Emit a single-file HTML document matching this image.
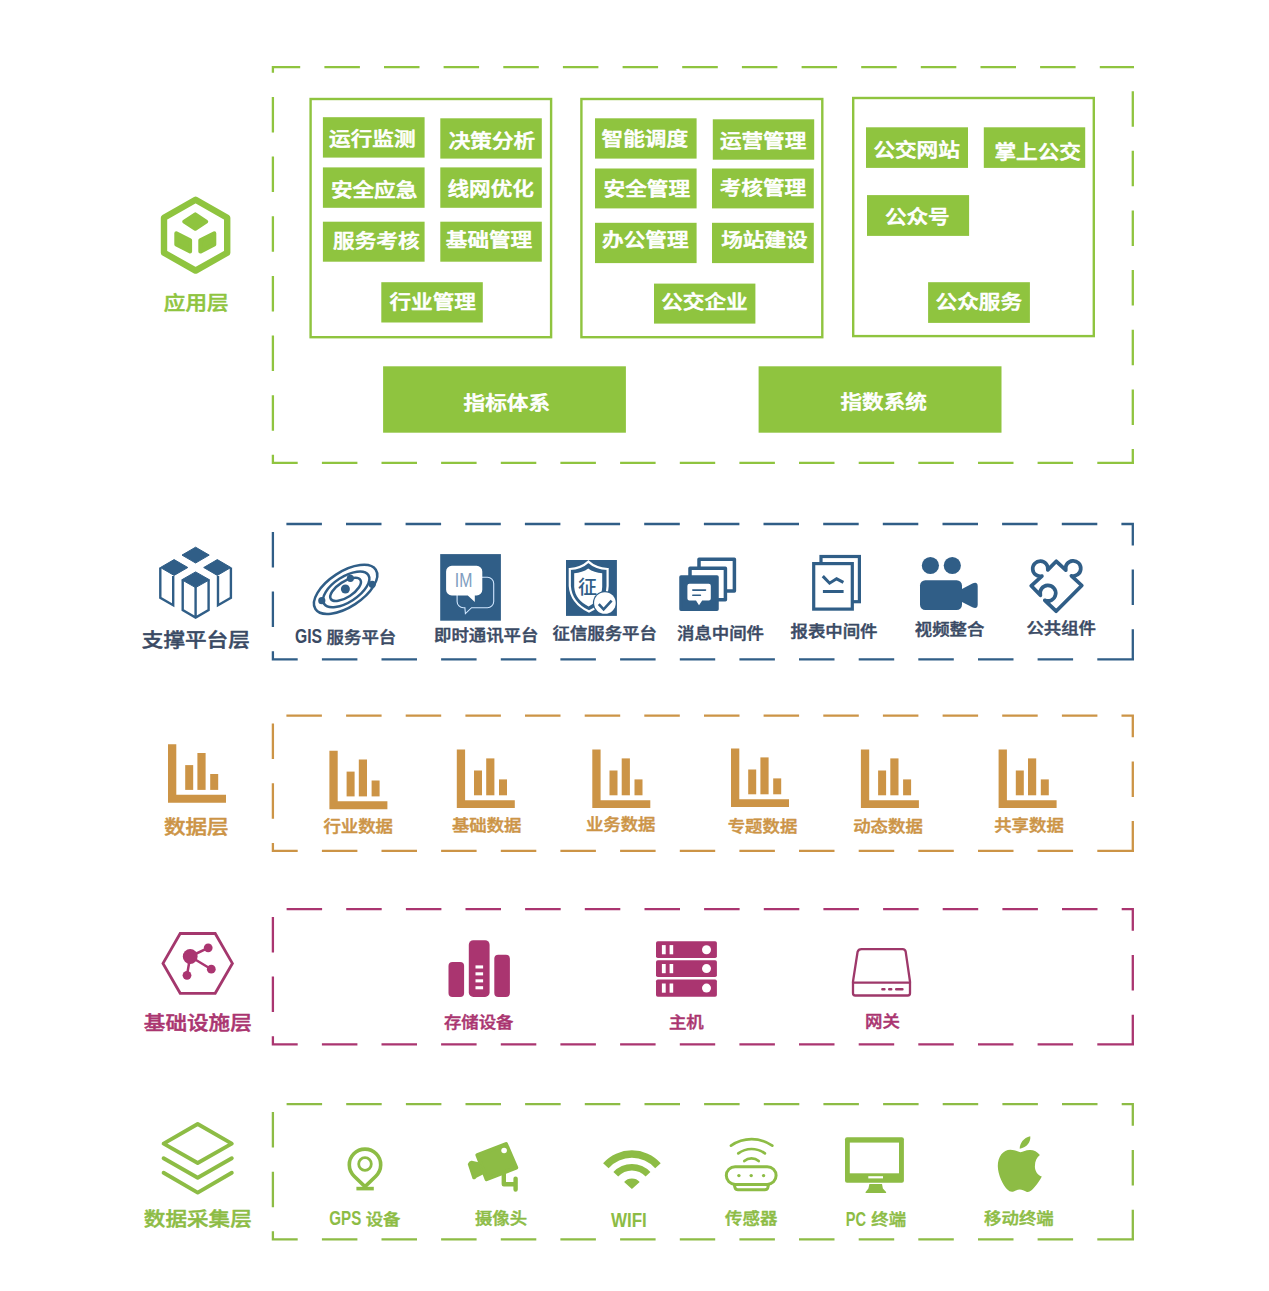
<!DOCTYPE html>
<html lang="zh-CN">
<head>
<meta charset="utf-8">
<title>公交数据平台架构</title>
<style>
html,body{margin:0;padding:0;background:#fff;}
body{width:1269px;height:1291px;overflow:hidden;}
svg{display:block;}
svg text{font-family:"Liberation Sans","Noto Sans CJK SC",sans-serif;font-weight:bold;text-anchor:middle;}
svg text.c{font-weight:500;stroke-width:0.5px;stroke-linejoin:round;}
</style>
</head>
<body>
<svg width="1269" height="1291" viewBox="0 0 1269 1291">
<rect width="1269" height="1291" fill="#fff"/>
<path d="M1134.0 462.8L1097.3 462.8M1073.1 462.8L1037.6 462.8M1013.5 462.8L978.0 462.8M953.8 462.8L918.3 462.8M894.2 462.8L858.7 462.8M834.5 462.8L799.0 462.8M774.9 462.8L739.4 462.8M715.2 462.8L679.8 462.8M655.6 462.8L620.1 462.8M595.9 462.8L560.4 462.8M536.3 462.8L500.8 462.8M476.6 462.8L441.1 462.8M417.0 462.8L381.5 462.8M357.4 462.8L321.9 462.8M297.7 462.8L272.9 462.8L272.9 454.8M272.9 430.7L272.9 395.2M272.9 371.0L272.9 335.5M272.9 311.4L272.9 275.9M272.9 251.7L272.9 216.2M272.9 192.1L272.9 156.6M272.9 132.4L272.9 96.9M272.9 72.8L272.9 67.2L300.2 67.2M324.4 67.2L359.9 67.2M384.0 67.2L419.5 67.2M443.6 67.2L479.1 67.2M503.3 67.2L538.8 67.2M562.9 67.2L598.4 67.2M622.6 67.2L658.1 67.2M682.2 67.2L717.8 67.2M741.9 67.2L777.4 67.2M801.6 67.2L837.1 67.2M861.2 67.2L896.7 67.2M920.8 67.2L956.3 67.2M980.5 67.2L1016.0 67.2M1040.1 67.2L1075.6 67.2M1099.8 67.2L1132.8 67.2L1134.0 67.2M1132.8 91.2L1132.8 126.7M1132.8 150.8L1132.8 186.3M1132.8 210.5L1132.8 246.0M1132.8 270.1L1132.8 305.6M1132.8 329.8L1132.8 365.3M1132.8 389.5L1132.8 425.0M1132.8 449.1L1132.8 462.8" fill="none" stroke="#8fc43f" stroke-width="2.3"/>
<path d="M1134.0 659.3L1097.3 659.3M1073.1 659.3L1037.6 659.3M1013.5 659.3L978.0 659.3M953.8 659.3L918.3 659.3M894.2 659.3L858.7 659.3M834.5 659.3L799.0 659.3M774.9 659.3L739.4 659.3M715.2 659.3L679.8 659.3M655.6 659.3L620.1 659.3M595.9 659.3L560.4 659.3M536.3 659.3L500.8 659.3M476.6 659.3L441.1 659.3M417.0 659.3L381.5 659.3M357.4 659.3L321.9 659.3M297.7 659.3L272.9 659.3L272.9 651.3M272.9 627.1L272.9 591.6M272.9 567.5L272.9 532.0M286.4 524.0L321.9 524.0M346.0 524.0L381.5 524.0M405.6 524.0L441.1 524.0M465.3 524.0L500.8 524.0M524.9 524.0L560.4 524.0M584.6 524.0L620.1 524.0M644.2 524.0L679.8 524.0M703.9 524.0L739.4 524.0M763.5 524.0L799.0 524.0M823.2 524.0L858.7 524.0M882.8 524.0L918.3 524.0M942.5 524.0L978.0 524.0M1002.1 524.0L1037.6 524.0M1061.8 524.0L1097.3 524.0M1121.4 524.0L1132.8 524.0L1132.8 545.5M1132.8 569.6L1132.8 605.1M1132.8 629.3L1132.8 659.3" fill="none" stroke="#305e87" stroke-width="2.3"/>
<path d="M1134.0 850.9L1097.3 850.9M1073.1 850.9L1037.6 850.9M1013.5 850.9L978.0 850.9M953.8 850.9L918.3 850.9M894.2 850.9L858.7 850.9M834.5 850.9L799.0 850.9M774.9 850.9L739.4 850.9M715.2 850.9L679.8 850.9M655.6 850.9L620.1 850.9M595.9 850.9L560.4 850.9M536.3 850.9L500.8 850.9M476.6 850.9L441.1 850.9M417.0 850.9L381.5 850.9M357.4 850.9L321.9 850.9M297.7 850.9L272.9 850.9L272.9 842.9M272.9 818.8L272.9 783.2M272.9 759.1L272.9 723.6M286.4 715.7L321.9 715.7M346.1 715.7L381.6 715.7M405.7 715.7L441.2 715.7M465.4 715.7L500.9 715.7M525.0 715.7L560.5 715.7M584.7 715.7L620.2 715.7M644.3 715.7L679.8 715.7M704.0 715.7L739.5 715.7M763.6 715.7L799.1 715.7M823.3 715.7L858.8 715.7M882.9 715.7L918.4 715.7M942.6 715.7L978.1 715.7M1002.2 715.7L1037.7 715.7M1061.9 715.7L1097.4 715.7M1121.5 715.7L1132.8 715.7L1132.8 737.2M1132.8 761.4L1132.8 796.9M1132.8 821.1L1132.8 850.9" fill="none" stroke="#cc9446" stroke-width="2.3"/>
<path d="M1134.0 1044.3L1097.3 1044.3M1073.1 1044.3L1037.6 1044.3M1013.5 1044.3L978.0 1044.3M953.8 1044.3L918.3 1044.3M894.2 1044.3L858.7 1044.3M834.5 1044.3L799.0 1044.3M774.9 1044.3L739.4 1044.3M715.2 1044.3L679.8 1044.3M655.6 1044.3L620.1 1044.3M595.9 1044.3L560.4 1044.3M536.3 1044.3L500.8 1044.3M476.6 1044.3L441.1 1044.3M417.0 1044.3L381.5 1044.3M357.4 1044.3L321.9 1044.3M297.7 1044.3L272.9 1044.3L272.9 1036.3M272.9 1012.1L272.9 976.6M272.9 952.5L272.9 917.0M286.6 909.2L322.1 909.2M346.2 909.2L381.7 909.2M405.9 909.2L441.4 909.2M465.5 909.2L501.0 909.2M525.1 909.2L560.7 909.2M584.8 909.2L620.3 909.2M644.5 909.2L680.0 909.2M704.1 909.2L739.6 909.2M763.8 909.2L799.3 909.2M823.4 909.2L858.9 909.2M883.1 909.2L918.6 909.2M942.7 909.2L978.2 909.2M1002.4 909.2L1037.9 909.2M1062.0 909.2L1097.5 909.2M1121.7 909.2L1132.8 909.2L1132.8 930.8M1132.8 955.0L1132.8 990.5M1132.8 1014.7L1132.8 1044.3" fill="none" stroke="#aa3570" stroke-width="2.3"/>
<path d="M1134.0 1239.3L1097.3 1239.3M1073.1 1239.3L1037.6 1239.3M1013.5 1239.3L978.0 1239.3M953.8 1239.3L918.3 1239.3M894.2 1239.3L858.7 1239.3M834.5 1239.3L799.0 1239.3M774.9 1239.3L739.4 1239.3M715.2 1239.3L679.8 1239.3M655.6 1239.3L620.1 1239.3M595.9 1239.3L560.4 1239.3M536.3 1239.3L500.8 1239.3M476.6 1239.3L441.1 1239.3M417.0 1239.3L381.5 1239.3M357.4 1239.3L321.9 1239.3M297.7 1239.3L272.9 1239.3L272.9 1231.3M272.9 1207.2L272.9 1171.7M272.9 1147.5L272.9 1112.0M286.6 1104.2L322.1 1104.2M346.2 1104.2L381.7 1104.2M405.9 1104.2L441.4 1104.2M465.5 1104.2L501.0 1104.2M525.1 1104.2L560.7 1104.2M584.8 1104.2L620.3 1104.2M644.5 1104.2L680.0 1104.2M704.1 1104.2L739.6 1104.2M763.8 1104.2L799.3 1104.2M823.4 1104.2L858.9 1104.2M883.1 1104.2L918.6 1104.2M942.7 1104.2L978.2 1104.2M1002.4 1104.2L1037.9 1104.2M1062.0 1104.2L1097.5 1104.2M1121.7 1104.2L1132.8 1104.2L1132.8 1125.8M1132.8 1150.0L1132.8 1185.5M1132.8 1209.7L1132.8 1239.3" fill="none" stroke="#8dbc45" stroke-width="2.3"/>
<rect x="310.6" y="99.0" width="240.5" height="238.2" fill="none" stroke="#8fc43f" stroke-width="2.4"/>
<rect x="581.4" y="99.0" width="240.9" height="238.2" fill="none" stroke="#8fc43f" stroke-width="2.4"/>
<rect x="853.2" y="98.0" width="240.6" height="238.1" fill="none" stroke="#8fc43f" stroke-width="2.4"/>
<rect x="322.9" y="117.2" width="101.7" height="40.4" fill="#8fc43f"/>
<text class="c" transform="translate(372.3 138.4) scale(1 0.89)" y="8.32" font-size="21.6" fill="#fff" stroke="#fff" style="stroke-width:0.7px">运行监测</text>
<rect x="440.3" y="118.3" width="101.5" height="40.3" fill="#8fc43f"/>
<text class="c" transform="translate(491.9 140.5) scale(1 0.89)" y="8.32" font-size="21.6" fill="#fff" stroke="#fff" style="stroke-width:0.7px">决策分析</text>
<rect x="322.9" y="167.4" width="101.7" height="40.4" fill="#8fc43f"/>
<text class="c" transform="translate(374.1 189.9) scale(1 0.89)" y="8.32" font-size="21.6" fill="#fff" stroke="#fff" style="stroke-width:0.7px">安全应急</text>
<rect x="440.3" y="167.4" width="101.5" height="40.4" fill="#8fc43f"/>
<text class="c" transform="translate(490.7 188.3) scale(1 0.89)" y="8.32" font-size="21.6" fill="#fff" stroke="#fff" style="stroke-width:0.7px">线网优化</text>
<rect x="322.9" y="221.7" width="101.7" height="40.0" fill="#8fc43f"/>
<text class="c" transform="translate(376.3 240.6) scale(1 0.89)" y="8.32" font-size="21.6" fill="#fff" stroke="#fff" style="stroke-width:0.7px">服务考核</text>
<rect x="440.3" y="221.7" width="101.5" height="40.0" fill="#8fc43f"/>
<text class="c" transform="translate(489.0 240.0) scale(1 0.89)" y="8.32" font-size="21.6" fill="#fff" stroke="#fff" style="stroke-width:0.7px">基础管理</text>
<rect x="381.3" y="282.2" width="101.5" height="40.3" fill="#8fc43f"/>
<text class="c" transform="translate(432.7 301.5) scale(1 0.89)" y="8.32" font-size="21.6" fill="#fff" stroke="#fff" style="stroke-width:0.7px">行业管理</text>
<rect x="595.0" y="118.3" width="101.6" height="40.3" fill="#8fc43f"/>
<text class="c" transform="translate(644.8 139.0) scale(1 0.89)" y="8.32" font-size="21.6" fill="#fff" stroke="#fff" style="stroke-width:0.7px">智能调度</text>
<rect x="712.8" y="119.3" width="101.4" height="40.4" fill="#8fc43f"/>
<text class="c" transform="translate(763.1 140.3) scale(1 0.89)" y="8.32" font-size="21.6" fill="#fff" stroke="#fff" style="stroke-width:0.7px">运营管理</text>
<rect x="595.0" y="168.5" width="101.6" height="39.9" fill="#8fc43f"/>
<text class="c" transform="translate(646.8 188.5) scale(1 0.89)" y="8.32" font-size="21.6" fill="#fff" stroke="#fff" style="stroke-width:0.7px">安全管理</text>
<rect x="712.0" y="168.5" width="101.8" height="39.9" fill="#8fc43f"/>
<text class="c" transform="translate(762.9 188.0) scale(1 0.89)" y="8.32" font-size="21.6" fill="#fff" stroke="#fff" style="stroke-width:0.7px">考核管理</text>
<rect x="595.0" y="222.8" width="101.6" height="40.3" fill="#8fc43f"/>
<text class="c" transform="translate(645.3 239.8) scale(1 0.89)" y="8.32" font-size="21.6" fill="#fff" stroke="#fff" style="stroke-width:0.7px">办公管理</text>
<rect x="712.0" y="222.8" width="101.8" height="40.3" fill="#8fc43f"/>
<text class="c" transform="translate(764.4 239.8) scale(1 0.89)" y="8.32" font-size="21.6" fill="#fff" stroke="#fff" style="stroke-width:0.7px">场站建设</text>
<rect x="654.0" y="283.6" width="101.4" height="40.0" fill="#8fc43f"/>
<text class="c" transform="translate(704.4 301.5) scale(1 0.89)" y="8.32" font-size="21.6" fill="#fff" stroke="#fff" style="stroke-width:0.7px">公交企业</text>
<rect x="866.0" y="127.3" width="102.0" height="40.6" fill="#8fc43f"/>
<text class="c" transform="translate(916.6 150.0) scale(1 0.89)" y="8.32" font-size="21.6" fill="#fff" stroke="#fff" style="stroke-width:0.7px">公交网站</text>
<rect x="983.8" y="127.3" width="101.4" height="40.6" fill="#8fc43f"/>
<text class="c" transform="translate(1037.7 152.0) scale(1 0.89)" y="8.32" font-size="21.6" fill="#fff" stroke="#fff" style="stroke-width:0.7px">掌上公交</text>
<rect x="867.0" y="195.1" width="102.1" height="40.8" fill="#8fc43f"/>
<text class="c" transform="translate(917.3 216.5) scale(1 0.89)" y="8.32" font-size="21.6" fill="#fff" stroke="#fff" style="stroke-width:0.7px">公众号</text>
<rect x="928.1" y="282.2" width="101.8" height="40.7" fill="#8fc43f"/>
<text class="c" transform="translate(978.8 301.5) scale(1 0.89)" y="8.32" font-size="21.6" fill="#fff" stroke="#fff" style="stroke-width:0.7px">公众服务</text>
<rect x="383.1" y="366.3" width="242.8" height="66.4" fill="#8fc43f"/>
<text class="c" transform="translate(506.8 402.3) scale(1 0.89)" y="8.32" font-size="21.6" fill="#fff" stroke="#fff" style="stroke-width:0.7px">指标体系</text>
<rect x="758.6" y="366.3" width="242.9" height="66.4" fill="#8fc43f"/>
<text class="c" transform="translate(883.7 401.3) scale(1 0.89)" y="8.32" font-size="21.6" fill="#fff" stroke="#fff" style="stroke-width:0.7px">指数系统</text>
<text class="c" transform="translate(196.2 302.6) scale(1 0.89)" y="8.32" font-size="21.6" fill="#8fc43f" stroke="#8fc43f" >应用层</text>
<text class="c" transform="translate(195.8 639.3) scale(1 0.89)" y="8.32" font-size="21.6" fill="#3a4a64" stroke="#3a4a64" >支撑平台层</text>
<text class="c" transform="translate(196.3 826.2) scale(1 0.89)" y="8.32" font-size="21.6" fill="#cc9446" stroke="#cc9446" >数据层</text>
<text class="c" transform="translate(197.8 1023.0) scale(1 0.89)" y="8.32" font-size="21.6" fill="#aa3570" stroke="#aa3570" >基础设施层</text>
<text class="c" transform="translate(197.8 1218.5) scale(1 0.89)" y="8.32" font-size="21.6" fill="#8dbc45" stroke="#8dbc45" >数据采集层</text>
<text transform="translate(294.97 643.05) scale(0.810 1)" font-size="19.42" fill="#3a4a64" style="text-anchor:start">GIS</text>
<text class="c" transform="translate(361.4 637.2) scale(1 0.89)" y="6.70" font-size="17.4" fill="#3a4a64" stroke="#3a4a64" >服务平台</text>
<text class="c" transform="translate(486.2 634.6) scale(1 0.89)" y="6.70" font-size="17.4" fill="#3a4a64" stroke="#3a4a64" >即时通讯平台</text>
<text class="c" transform="translate(604.7 632.9) scale(1 0.89)" y="6.70" font-size="17.4" fill="#3a4a64" stroke="#3a4a64" >征信服务平台</text>
<text class="c" transform="translate(720.5 632.9) scale(1 0.89)" y="6.70" font-size="17.4" fill="#3a4a64" stroke="#3a4a64" >消息中间件</text>
<text class="c" transform="translate(834.0 631.4) scale(1 0.89)" y="6.70" font-size="17.4" fill="#3a4a64" stroke="#3a4a64" >报表中间件</text>
<text class="c" transform="translate(949.6 628.6) scale(1 0.89)" y="6.70" font-size="17.4" fill="#3a4a64" stroke="#3a4a64" >视频整合</text>
<text class="c" transform="translate(1061.2 627.9) scale(1 0.89)" y="6.70" font-size="17.4" fill="#3a4a64" stroke="#3a4a64" >公共组件</text>
<text class="c" transform="translate(358.2 826.5) scale(1 0.89)" y="6.70" font-size="17.4" fill="#cc9446" stroke="#cc9446" >行业数据</text>
<text class="c" transform="translate(486.7 824.9) scale(1 0.89)" y="6.70" font-size="17.4" fill="#cc9446" stroke="#cc9446" >基础数据</text>
<text class="c" transform="translate(620.7 824.0) scale(1 0.89)" y="6.70" font-size="17.4" fill="#cc9446" stroke="#cc9446" >业务数据</text>
<text class="c" transform="translate(762.5 825.9) scale(1 0.89)" y="6.70" font-size="17.4" fill="#cc9446" stroke="#cc9446" >专题数据</text>
<text class="c" transform="translate(888.0 825.9) scale(1 0.89)" y="6.70" font-size="17.4" fill="#cc9446" stroke="#cc9446" >动态数据</text>
<text class="c" transform="translate(1029.0 824.8) scale(1 0.89)" y="6.70" font-size="17.4" fill="#cc9446" stroke="#cc9446" >共享数据</text>
<text class="c" transform="translate(478.7 1022.2) scale(1 0.89)" y="6.70" font-size="17.4" fill="#aa3570" stroke="#aa3570" >存储设备</text>
<text class="c" transform="translate(686.3 1021.8) scale(1 0.89)" y="6.70" font-size="17.4" fill="#aa3570" stroke="#aa3570" >主机</text>
<text class="c" transform="translate(882.5 1021.4) scale(1 0.89)" y="6.70" font-size="17.4" fill="#aa3570" stroke="#aa3570" >网关</text>
<text transform="translate(329.29 1225.45) scale(0.781 1)" font-size="19.42" fill="#8dbc45" style="text-anchor:start">GPS</text>
<text transform="translate(610.90 1226.55) scale(0.876 1)" font-size="19.42" fill="#8dbc45" style="text-anchor:start">WIFI</text>
<text transform="translate(845.77 1225.95) scale(0.754 1)" font-size="19.42" fill="#8dbc45" style="text-anchor:start">PC</text>
<text class="c" transform="translate(383.1 1218.9) scale(1 0.89)" y="6.70" font-size="17.4" fill="#8dbc45" stroke="#8dbc45" >设备</text>
<text class="c" transform="translate(501.0 1218.4) scale(1 0.89)" y="6.70" font-size="17.4" fill="#8dbc45" stroke="#8dbc45" >摄像头</text>
<text class="c" transform="translate(751.2 1217.8) scale(1 0.89)" y="6.70" font-size="17.4" fill="#8dbc45" stroke="#8dbc45" >传感器</text>
<text class="c" transform="translate(888.7 1219.5) scale(1 0.89)" y="6.70" font-size="17.4" fill="#8dbc45" stroke="#8dbc45" >终端</text>
<text class="c" transform="translate(1018.9 1218.3) scale(1 0.89)" y="6.70" font-size="17.4" fill="#8dbc45" stroke="#8dbc45" >移动终端</text>
<g fill="#cc9446" transform="translate(168.0 744.2)"><path d="M0 0H8.3V50.6H58V58.5H0Z"/><rect x="17.2" y="20.9" width="8" height="24.8"/><rect x="29.4" y="8.8" width="8.2" height="36.9"/><rect x="42.2" y="29.8" width="8" height="15.9"/></g>
<g fill="#cc9446" transform="translate(329.4 750.7)"><path d="M0 0H8.3V50.6H58V58.5H0Z"/><rect x="17.2" y="20.9" width="8" height="24.8"/><rect x="29.4" y="8.8" width="8.2" height="36.9"/><rect x="42.2" y="29.8" width="8" height="15.9"/></g>
<g fill="#cc9446" transform="translate(456.8 749.6)"><path d="M0 0H8.3V50.6H58V58.5H0Z"/><rect x="17.2" y="20.9" width="8" height="24.8"/><rect x="29.4" y="8.8" width="8.2" height="36.9"/><rect x="42.2" y="29.8" width="8" height="15.9"/></g>
<g fill="#cc9446" transform="translate(592.3 749.6)"><path d="M0 0H8.3V50.6H58V58.5H0Z"/><rect x="17.2" y="20.9" width="8" height="24.8"/><rect x="29.4" y="8.8" width="8.2" height="36.9"/><rect x="42.2" y="29.8" width="8" height="15.9"/></g>
<g fill="#cc9446" transform="translate(731.0 748.6)"><path d="M0 0H8.3V50.6H58V58.5H0Z"/><rect x="17.2" y="20.9" width="8" height="24.8"/><rect x="29.4" y="8.8" width="8.2" height="36.9"/><rect x="42.2" y="29.8" width="8" height="15.9"/></g>
<g fill="#cc9446" transform="translate(860.9 749.6)"><path d="M0 0H8.3V50.6H58V58.5H0Z"/><rect x="17.2" y="20.9" width="8" height="24.8"/><rect x="29.4" y="8.8" width="8.2" height="36.9"/><rect x="42.2" y="29.8" width="8" height="15.9"/></g>
<g fill="#cc9446" transform="translate(998.6 749.6)"><path d="M0 0H8.3V50.6H58V58.5H0Z"/><rect x="17.2" y="20.9" width="8" height="24.8"/><rect x="29.4" y="8.8" width="8.2" height="36.9"/><rect x="42.2" y="29.8" width="8" height="15.9"/></g>
<g fill="#8fc43f" stroke="#8fc43f" stroke-linejoin="round"><path d="M195.6 199.8L227.2 217.8V252.8L195.6 270.6L164 252.8V217.8Z" fill="none" stroke-width="6.4"/><path d="M195.3 214.4L206.2 221.6L195.3 228.8L184.2 221.6Z" stroke-width="4"/><path d="M176.3 233.2L190.1 240.3V251.6L176.3 244.4Z" stroke-width="4"/><path d="M214.3 233.2L200.3 240.3V251.6L214.3 244.4Z" stroke-width="4"/></g>
<g fill="#305e87" stroke="#305e87" stroke-width="2.4" stroke-linejoin="miter"><path d="M195.6 547.2L209.2 555.1L195.6 563L182 555.1Z" stroke-width="1"/><path d="M174.1 559.6L187.8 567.5L174.1 575.4L160.4 567.5Z" stroke-width="1"/><path d="M160.3 567.5V597.9L173.2 605.3V576" fill="none"/><path d="M217.3 559.6L230.9 567.5L217.3 575.4L203.7 567.5Z" stroke-width="1"/><path d="M230.9 567.5V597.9L218 605.3V576" fill="none"/><path d="M195.6 571.9L209.5 579.8L195.6 587.6L181.8 579.8Z" stroke-width="1"/><path d="M182.7 579.8V610L195.6 617.5L208.6 610V579.8M195.6 587V617.5" fill="none"/></g>
<g transform="translate(345.6 589.4) rotate(-33)" fill="none" stroke="#305e87" stroke-width="2.5"><ellipse cx="0" cy="0" rx="36" ry="17.6"/><ellipse cx="0.5" cy="0.3" rx="26.4" ry="12.6"/><ellipse cx="0" cy="0" rx="17.6" ry="7.8"/></g>
<g fill="#305e87"><circle cx="345.4" cy="589" r="4.5"/><circle cx="350.4" cy="578.3" r="3.6"/><circle cx="321.8" cy="600.7" r="3.6"/><circle cx="372.2" cy="584.3" r="3.6"/></g>
<rect x="440.2" y="554.1" width="60.7" height="66.6" fill="#305e87"/>
<path d="M482 577.2H487.4A6.3 6.3 0 0 1 493.7 583.5V601.4A6.3 6.3 0 0 1 487.4 607.7H471.6L465.4 613.6L464.9 607.7H463.4A6.3 6.3 0 0 1 457.1 601.4V595" fill="none" stroke="#cfe6ff" stroke-width="1.1"/>
<path d="M451.8 565.8H476.6A5.7 5.7 0 0 1 482.3 571.5V589.7A5.7 5.7 0 0 1 476.6 595.4H474.8V602L467.8 595.4H451.8A5.7 5.7 0 0 1 446.1 589.7V571.5A5.7 5.7 0 0 1 451.8 565.8Z" fill="#fff"/>
<text x="463.6" y="586.9" font-size="19.6" fill="#809dc0" style="font-weight:normal" textLength="17.6" lengthAdjust="spacingAndGlyphs">IM</text>
<rect x="566" y="560" width="50.9" height="55.9" fill="#305e87"/>
<path d="M588.4 561.6C583 566.6 576.5 568.6 569.8 569V586C570.6 598 578.5 606.5 589 611.6C599.5 606.5 607.2 598 607.6 586V569C600.5 568.6 593.8 566.6 588.4 561.6Z" fill="none" stroke="#fff" stroke-width="2.2" stroke-linejoin="miter"/>
<path d="M588.2 568.6C584.4 571.6 579.4 573 574.2 573.2V587C574.8 596.4 580.6 602.4 588.6 606.4C596.6 602.4 602 596.4 602.2 587V573.2C597 573 592 571.6 588.2 568.6Z" fill="#fff"/>
<text x="587.4" y="594.2" font-size="19" fill="#305e87" style="font-weight:500">征</text>
<circle cx="604.9" cy="603" r="12" fill="#305e87"/><circle cx="604.9" cy="603" r="10.8" fill="#fff"/>
<path d="M598.8 604.2L603.6 609.4L611.6 600.6" fill="none" stroke="#305e87" stroke-width="2.6"/>
<g stroke="#305e87" stroke-width="3.5" stroke-linejoin="round"><rect x="699" y="559.3" width="35.4" height="31.6" fill="#fff"/><rect x="690" y="568.2" width="35.4" height="31.6" fill="#fff"/><rect x="681" y="577" width="36" height="32.2" fill="#305e87"/></g>
<path d="M689.4 583.8H708.8A2 2 0 0 1 710.8 585.8V598.6A2 2 0 0 1 708.8 600.6H702.2L699 605.3L696 600.6H689.4A2 2 0 0 1 687.4 598.6V585.8A2 2 0 0 1 689.4 583.8Z" fill="#fff"/>
<path d="M692.8 590.1H705.5M692.8 595.3H700.4" stroke="#305e87" stroke-width="1.6" stroke-linecap="round"/>
<g stroke="#305e87" stroke-width="3.2" fill="#fff"><rect x="821" y="556.5" width="38.4" height="45.2"/><rect x="813.7" y="563.6" width="38.6" height="45.5"/><path d="M822.8 576.1L829.6 583.2L836.6 578.8L843.4 582.3" fill="none" stroke-width="3"/><path d="M822.9 591.5H843.6" stroke-width="3"/></g>
<g fill="#305e87"><circle cx="930.4" cy="565.5" r="8.6"/><circle cx="952.3" cy="565.5" r="8.6"/><rect x="920" y="580.2" width="42" height="29.8" rx="5.3"/><path d="M961 589.4L972.4 583.6Q977.7 581.2 977.7 586.6V604.2Q977.7 609.6 972.4 607.2L961 601.4Z"/></g>
<path d="M1056.3 561.3L1047.8 569.9A7.6 7.6 0 1 0 1041.9 576.1L1031.2 585.8L1040.4 595.3A7.8 7.8 0 1 1 1044.8 600.3L1056.1 611.2L1081.8 585.5L1071.4 575.8A7.6 7.6 0 1 0 1065.8 570.2Z" fill="none" stroke="#305e87" stroke-width="3.7" stroke-linejoin="round" stroke-linecap="round"/>
<path d="M163 963.4L180.2 933.5H215.2L232.4 963.4L215.2 993.3H180.2Z" fill="none" stroke="#a4376d" stroke-width="2.8"/>
<path d="M190.2 956.5L208.2 947.8M190.2 956.5L211.3 969.2M190.2 956.5L187 975.3" stroke="#aa3570" stroke-width="2.5"/>
<g fill="#aa3570"><circle cx="190.2" cy="956.5" r="7.4"/><circle cx="208.2" cy="947.8" r="4.4"/><circle cx="211.3" cy="969.2" r="4.4"/><circle cx="187" cy="975.3" r="4.4"/></g>
<g fill="#aa3570"><rect x="448.5" y="962.1" width="15.6" height="34.8" rx="4"/><rect x="468.8" y="940.2" width="20.8" height="56.7" rx="4.5"/><rect x="494.3" y="954.8" width="15.6" height="42.1" rx="4"/></g>
<g fill="#fff"><rect x="475.5" y="965.4" width="7.6" height="3.1"/><rect x="475.5" y="972.3" width="7.6" height="3.1"/><rect x="475.5" y="979.3" width="7.6" height="3.1"/><rect x="475.5" y="986.2" width="7.6" height="3.1"/></g>
<rect x="656" y="941.3" width="60.9" height="16.8" rx="1.8" fill="#aa3570"/>
<g fill="#fff"><rect x="661.9" y="945.1" width="3.8" height="9.2"/><rect x="669.6" y="945.1" width="3.6" height="9.2"/><circle cx="706.5" cy="949.7" r="4.5"/></g>
<rect x="656" y="960.3" width="60.9" height="16.7" rx="1.8" fill="#aa3570"/>
<g fill="#fff"><rect x="661.9" y="964.0" width="3.8" height="9.2"/><rect x="669.6" y="964.0" width="3.6" height="9.2"/><circle cx="706.5" cy="968.6" r="4.5"/></g>
<rect x="656" y="979.5" width="60.9" height="17.3" rx="1.8" fill="#aa3570"/>
<g fill="#fff"><rect x="661.9" y="983.5" width="3.8" height="9.2"/><rect x="669.6" y="983.5" width="3.6" height="9.2"/><circle cx="706.5" cy="988.1" r="4.5"/></g>
<g fill="none" stroke="#9e386a" stroke-width="2.3" stroke-linejoin="round" stroke-linecap="round"><path d="M861.6 949.2H902.6Q905.2 949.2 905.7 951.8L910 981.5V993.3Q910 995.5 907.8 995.5H855.2Q853 995.5 853 993.3V981.5L857.6 951.8Q858.4 949.2 861.6 949.2Z"/><path d="M853 982.6H910"/><path d="M882.4 989.2H884.4M889.2 989.2H891.2M896.2 989.2H902.4" stroke-width="2.5"/></g>
<g fill="none" stroke="#8dbc45" stroke-width="3.9" stroke-linejoin="round" stroke-linecap="round"><path d="M197.7 1124L231.8 1143.6L197.7 1163L163.6 1143.6Z"/><path d="M163.6 1158.2L197.7 1177.8L231.8 1158.2"/><path d="M163.6 1172.8L197.7 1192.6L231.8 1172.8"/></g>
<g fill="none" stroke="#8dbc45"><path d="M365 1186.6L354.2 1176.2A15.7 15.7 0 1 1 375.8 1176.2Z" stroke-width="3.6" stroke-linejoin="round"/><circle cx="365" cy="1164" r="6.3" stroke-width="2.8"/><path d="M356.4 1188.6H373.8" stroke-width="3.6"/></g>
<g fill="#8dbc45" stroke="#8dbc45" stroke-linejoin="round"><path d="M477.4 1155L506 1144L516.2 1167.6L486.6 1179.2Z" stroke-width="4"/><path d="M469.9 1162.4L471.7 1161.8L479.5 1163.4L483 1173.4L476 1176.8L474.8 1178.2L473.4 1178.2L468.8 1164.2Z" stroke-width="2"/><path d="M503.8 1174V1184.2H515.6M515.6 1178.6V1189.6" fill="none" stroke-width="4.4" stroke-linecap="round"/></g>
<circle cx="504.1" cy="1150.5" r="2.8" fill="#fff"/>
<path d="M631.9 1189.1L624.1 1181.9A10.6 10.6 0 0 1 639.7 1181.9ZM613.4 1172.1A25.1 25.1 0 0 1 650.4 1172.1L645.6 1176.5A18.6 18.6 0 0 0 618.2 1176.5ZM603.1 1163.2A38.7 38.7 0 0 1 660.7 1163.2L655.2 1168.2A31.3 31.3 0 0 0 608.6 1168.2Z" fill="#8dbc45"/>
<g fill="none" stroke="#8dbc45" stroke-width="3" stroke-linecap="round" stroke-linejoin="round"><rect x="726.3" y="1166.7" width="49.8" height="17.7" rx="8.85"/><path d="M734.2 1184.7L735 1187.6Q735.6 1189.8 738 1189.8H764.8Q767.2 1189.8 767.8 1187.6L768.5 1184.7"/><path d="M731 1145.7A36 36 0 0 1 772.3 1145.7" stroke-width="2.7"/><path d="M738.3 1153.4A22.3 22.3 0 0 1 764.9 1153.4" stroke-width="2.7"/><path d="M744.3 1161.1A10.9 10.9 0 0 1 758.7 1161.1" stroke-width="2.7"/></g>
<g fill="#8dbc45"><circle cx="738.9" cy="1175.6" r="1.7"/><circle cx="751.2" cy="1175.6" r="1.7"/><circle cx="763.6" cy="1175.6" r="1.7"/></g>
<rect x="845" y="1137.3" width="58.9" height="45.4" rx="2" fill="#8dbc45"/>
<rect x="849.8" y="1142.6" width="49.2" height="30.7" fill="#fff"/><rect x="868.3" y="1176.2" width="14.7" height="2.2" fill="#fff"/>
<path d="M869.4 1184.1H882L882.9 1188.5L886.1 1192V1192.9H865.6V1192L868.4 1188.5Z" fill="#8dbc45"/>
<g fill="#8dbc45" transform="translate(985 1128) scale(0.05516)"><path d="M640 440C580 420 520 395 460 395C330 395 232 520 232 690C232 850 330 1040 400 1110C440 1150 480 1165 520 1150C560 1135 590 1115 630 1115C670 1115 710 1140 760 1158C810 1170 850 1130 900 1070C960 1000 1000 940 1030 880C950 850 900 770 905 690C905 600 940 530 995 490C950 430 880 395 810 398C740 400 690 430 640 440Z"/><path d="M630 375C625 290 700 170 820 150C835 240 760 360 630 375Z"/></g>
</svg>
</body>
</html>
